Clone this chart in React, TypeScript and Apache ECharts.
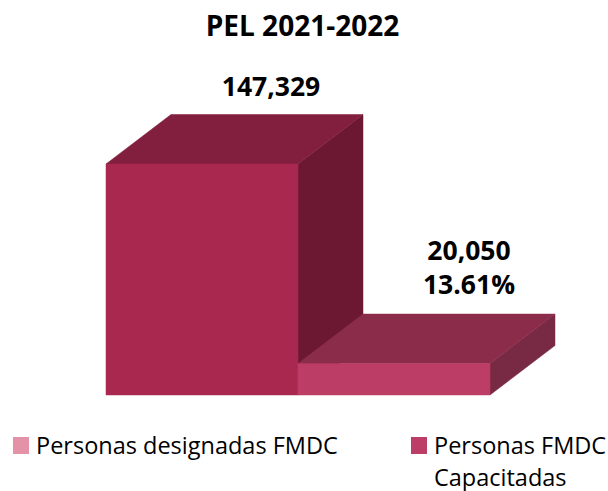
import React, { useEffect, useRef } from "react";
import * as echarts from "echarts";

const titleText = "PEL 2021-2022";
const categories = ["Personas designadas FMDC", "Personas FMDC Capacitadas"];
const values = [147329, 20050];
const valueLabels = ["147,329", "20,050\n13.61%"];
const legendLines = [["Personas designadas FMDC"], ["Personas FMDC", "Capacitadas"]];
const legendColors = ["#E392A7", "#BC3D66"];
const frontColors = ["#A92850", "#BC3D66"];
const topColors = ["#821F3F", "#8B2C4B"];
const sideColors = ["#6D1833", "#782943"];
const FONT = '"Open Sans", "Noto Sans", sans-serif';

function renderBar(params: any, api: any) {
  const i = api.value(0);
  const w = api.size([1, 0])[0];
  const base = api.coord([i, 0]);
  const top = api.coord([i, api.value(1)]);
  const x0 = base[0] - w / 2;
  const x1 = base[0] + w / 2;
  const yB = base[1];
  const yT = top[1];
  const dx = 65;
  const dy = 49.5;
  const poly = (points: number[][], fill: string) => ({
    type: "polygon",
    shape: { points },
    style: { fill, stroke: fill, lineWidth: 0.5 },
  });
  const labelShift = i === 0 ? 4 : 10;
  const labelLift = i === 0 ? 11.5 : 13;
  return {
    type: "group",
    children: [
      poly([[x1, yB], [x1 + dx, yB - dy], [x1 + dx, yT - dy], [x1, yT]], sideColors[i]),
      poly([[x0, yT], [x1, yT], [x1 + dx, yT - dy], [x0 + dx, yT - dy]], topColors[i]),
      poly([[x0, yT], [x1, yT], [x1, yB], [x0, yB]], frontColors[i]),
      {
        type: "text",
        style: {
          x: base[0] + dx + labelShift,
          y: yT - dy - labelLift,
          text: valueLabels[i],
          fill: "#000",
          font: `bold 26.5px ${FONT}`,
          align: "center",
          verticalAlign: "bottom",
          lineHeight: 34,
        },
      },
    ],
  };
}

export default function App() {
  const ref = useRef<HTMLDivElement>(null);
  useEffect(() => {
    const chart = echarts.init(ref.current!, null, { renderer: "svg" });
    const legendX = [13, 411];
    const textX = [36, 434];
    const legendGraphics: any[] = [];
    legendLines.forEach((lines, k) => {
      legendGraphics.push({
        type: "rect",
        shape: { x: legendX[k], y: 437, width: 16, height: 17 },
        style: { fill: legendColors[k] },
      });
      lines.forEach((line, j) => {
        legendGraphics.push({
          type: "text",
          style: {
            x: textX[k],
            y: 445 + j * 31.5,
            text: line,
            fill: "#000",
            font: `23.5px ${FONT}`,
            verticalAlign: "middle",
          },
        });
      });
    });
    legendGraphics.push({
      type: "text",
      style: {
        x: 302.5,
        y: 25,
        text: titleText,
        fill: "#000",
        font: `bold 28px ${FONT}`,
        align: "center",
        verticalAlign: "middle",
      },
    });
    chart.setOption({
      animation: false,
      grid: { left: 106, right: 118, top: 164, bottom: 96 },
      xAxis: { type: "category", data: categories, show: false },
      yAxis: { type: "value", min: 0, max: values[0], show: false },
      series: [
        {
          type: "custom",
          renderItem: renderBar,
          clip: false,
          data: values.map((v, i) => [i, v]),
          encode: { x: 0, y: 1 },
        },
      ],
      graphic: legendGraphics,
    });
    return () => chart.dispose();
  }, []);
  return <div ref={ref} style={{ position: "absolute", left: 0, top: 0, width: 608, height: 491 }} />;
}
